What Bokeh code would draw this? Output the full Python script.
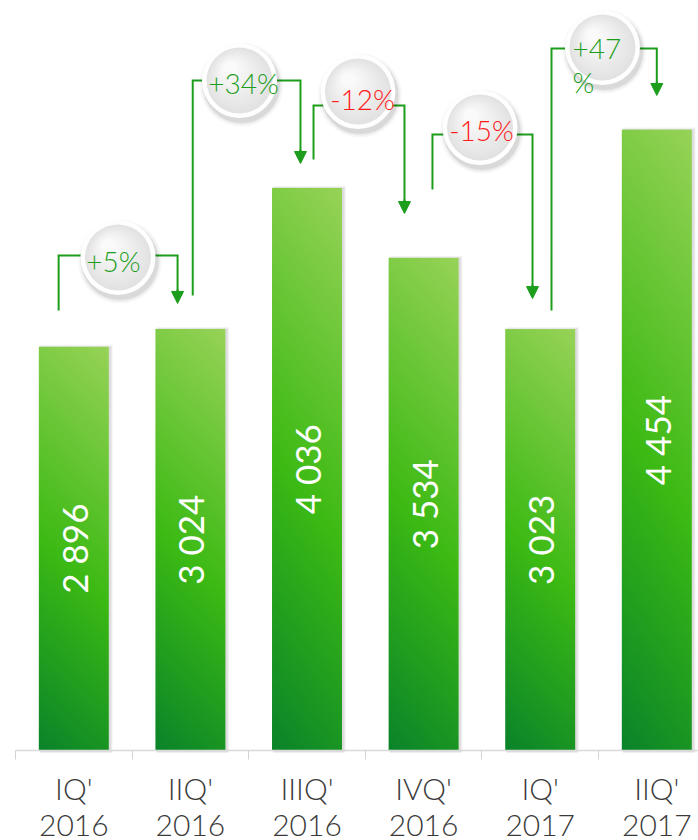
import numpy as np
from bokeh.plotting import figure
from bokeh.models import Range1d, FixedTicker, ColumnDataSource, Arrow, NormalHead
from bokeh.core.properties import value
from bokeh.embed import file_html
from bokeh.resources import INLINE

# ---------------- data ----------------
quarters = ["IQ'", "IIQ'", "IIIQ'", "IVQ'", "IQ'", "IIQ'"]
years = ["2016", "2016", "2016", "2016", "2017", "2017"]
values = [2896, 3024, 4036, 3534, 3023, 4454]
value_labels = ["2 896", "3 024", "4 036", "3 534", "3 023", "4 454"]
changes = ["+5%", "+34%", "-12%", "-15%", "+47\n%"]
change_up = [True, True, False, False, True]

# ---------------- layout of the change call-outs (data units) ----------------
conn_left_dx = [-0.13, 0.02, 0.056, 0.076, 0.097]
conn_start = [3156, 3264, 4240, 4024, 3156]
conn_level = [3551, 4806, 4627, 4419, 5036]
conn_right_dx = [-0.11, -0.056, -0.164, -0.066, 0.0]
conn_tip = [3207, 4211, 3852, 3242, 4699]
bubble_x = [0.879, 1.921, 2.937, 3.984, 5.034]
bubble_y = [3537, 4806, 4727, 4469, 5043]
label_x = [0.840, 1.955, 2.976, 3.997, 4.777]
label_y = [3515, 4785, 4677, 4448, 4918]
label_align = ["center", "center", "center", "center", "left"]

FONT = "Lato Light"
FONT_BAR = "Lato"
GREEN = "#1c9e1c"
RED = "#ff1a1a"

# pixel scale of the plot (frame = whole figure)
PX_PER_X = 116.6
PX_PER_Y = 0.1394
FIG_W, FIG_H = 698, 840
LEFT_PAD_PX = 15     # distance from figure edge to first category boundary
BOTTOM_PX = 90       # space below the baseline


def dx(px):
    return px / PX_PER_X


def dy(px):
    return px / PX_PER_Y


x_start = -dx(LEFT_PAD_PX)
x_end = x_start + dx(FIG_W)
y_start = -dy(BOTTOM_PX)
y_end = y_start + dy(FIG_H)

p = figure(width=FIG_W, height=FIG_H, x_range=Range1d(x_start, x_end),
           y_range=Range1d(y_start, y_end),
           output_backend="svg", toolbar_location=None,
           min_border_left=0, min_border_right=0, min_border_top=0, min_border_bottom=0)
p.outline_line_color = None
p.xgrid.visible = False
p.ygrid.visible = False
p.yaxis.visible = False
p.background_fill_color = "white"
p.border_fill_color = "white"

n = len(values)
centers = [i + 0.5 for i in range(n)]
BAR_W = 0.6

# ---------------- bar shadows ----------------
for k, a in enumerate([0.05, 0.05, 0.04]):
    p.quad(left=[c - BAR_W / 2 + dx(1) for c in centers],
           right=[c + BAR_W / 2 + dx(2 + k) for c in centers],
           bottom=[-dy(2)] * n, top=[v + dy(k) for v in values],
           fill_color="#000000", fill_alpha=a, line_color=None)

# ---------------- bars with gradient ----------------
H, W = 320, 40
rows = np.arange(H)[:, None]
cols = np.arange(W)[None, :]
t = 1 - rows / (H - 1)          # 0 at top, 1 at bottom
s = cols / (W - 1)              # 0 left, 1 right
u = np.clip(t * 0.86 + (1 - s) * 0.14, 0, 1)
stops_u = [0.0, 0.55, 1.0]
stops_c = np.array([[152, 211, 88], [60, 186, 20], [10, 132, 42]], dtype=float)
img = np.empty((H, W), dtype=np.uint32)
view = img.view(dtype=np.uint8).reshape((H, W, 4))
for ch in range(3):
    view[:, :, ch] = np.interp(u, stops_u, stops_c[:, ch]).astype(np.uint8)
view[:, :, 3] = 255

p.image_rgba(image=[img] * n, x=[c - BAR_W / 2 for c in centers], y=[0] * n,
             dw=[BAR_W] * n, dh=values)

# value labels inside bars
p.text(x=centers, y=[v / 2 for v in values], text=value_labels, angle=np.pi / 2,
       text_align="center", text_baseline="middle", text_color="white",
       text_font=value(FONT_BAR), text_font_size="35px")

# ---------------- connectors ----------------
xs, ys = [], []
for i in range(n - 1):
    xl = centers[i] + conn_left_dx[i]
    xr = centers[i + 1] + conn_right_dx[i]
    xs.append([xl, xl, xr, xr])
    ys.append([conn_start[i], conn_level[i], conn_level[i], conn_tip[i] + dy(8)])
p.multi_line(xs=xs, ys=ys, line_color=GREEN, line_width=2, line_join="miter")

arrow_src = ColumnDataSource(dict(
    x0=[centers[i + 1] + conn_right_dx[i] for i in range(n - 1)],
    y0=[conn_tip[i] + dy(14) for i in range(n - 1)],
    x1=[centers[i + 1] + conn_right_dx[i] for i in range(n - 1)],
    y1=conn_tip,
))
p.add_layout(Arrow(end=NormalHead(size=12, fill_color=GREEN, line_color=GREEN, line_width=1),
                   x_start="x0", y_start="y0", x_end="x1", y_end="y1",
                   line_color=GREEN, line_width=2, source=arrow_src))

# ---------------- bubbles ----------------
for k, (sz, a) in enumerate([(84, 0.03), (80, 0.05), (77, 0.07)]):
    p.scatter(x=[b + dx(2) for b in bubble_x], y=[b - dy(4) for b in bubble_y],
              size=sz, marker="circle", fill_color="#000000", fill_alpha=a, line_color=None)
p.scatter(x=bubble_x, y=bubble_y, size=75, marker="circle",
          fill_color="#fefefe", line_color=None)
steps = 14
c0 = np.array([226, 226, 226])
c1 = np.array([250, 250, 250])
for k in range(steps):
    f = k / (steps - 1)
    r = 33 * (1 - 0.8 * f)
    off = 33 - r
    col = c0 + (c1 - c0) * f
    hexc = "#%02x%02x%02x" % tuple(int(round(v)) for v in col)
    p.scatter(x=[b - dx(off * 0.35) for b in bubble_x], y=[b + dy(off * 0.45) for b in bubble_y],
              size=2 * r, marker="circle", fill_color=hexc, line_color=None)

# change labels
p.text(x=label_x, y=label_y, text=changes,
       text_color=[GREEN if up else RED for up in change_up],
       text_align=label_align, text_baseline="middle",
       text_font=value(FONT), text_font_size="28px", text_line_height=1.0)

# ---------------- x axis (placed at the baseline, inside the frame) ----------------
ax = p.xaxis[0]
ax.fixed_location = 0
ax.bounds = (0, n)
ax.ticker = FixedTicker(ticks=centers, minor_ticks=list(range(n + 1)))
ax.major_label_overrides = {c: f"{q}\n{y}" for c, q, y in zip(centers, quarters, years)}
ax.major_tick_line_color = None
ax.major_tick_in = 0
ax.major_tick_out = 0
ax.minor_tick_in = 0
ax.minor_tick_out = 9
ax.minor_tick_line_color = "#d3d3d3"
ax.axis_line_color = "#d9d9d9"
ax.axis_line_width = 1.5
ax.major_label_standoff = 10
ax.major_label_text_font = FONT
ax.major_label_text_font_size = "30px"
ax.major_label_text_color = "#3a3a3a"
ax.major_label_text_line_height = 1.0

open("out.html", "w").write(file_html(p, INLINE))
